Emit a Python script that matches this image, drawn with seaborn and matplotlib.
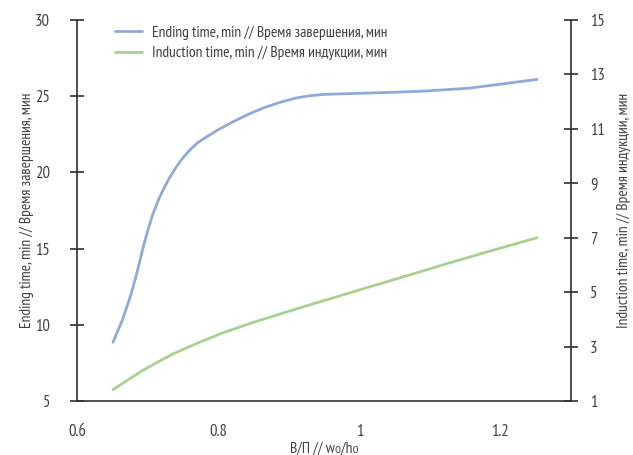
import matplotlib
matplotlib.use("Agg")
import matplotlib.pyplot as plt
from matplotlib import font_manager as fm
import seaborn as sns
import pandas as pd

# ---- data ----
x_end = [0.651, 0.665, 0.677, 0.686, 0.694, 0.701, 0.708, 0.715, 0.722, 0.731, 0.741,
         0.750, 0.760, 0.771, 0.784, 0.800, 0.817, 0.831, 0.846, 0.865, 0.888, 0.910,
         0.930, 0.950, 1.000, 1.045, 1.093, 1.154, 1.202, 1.252]
ending_time = [8.85, 10.4, 12.07, 13.6, 15.13, 16.3, 17.32, 18.15, 18.85, 19.65, 20.38,
               20.95, 21.47, 21.95, 22.34, 22.8, 23.22, 23.55, 23.88, 24.25, 24.6, 24.88,
               25.03, 25.12, 25.19, 25.25, 25.34, 25.52, 25.8, 26.1]

x_ind = [0.651, 0.694, 0.736, 0.770, 0.808, 0.850, 0.903, 0.950, 1.000, 1.031, 1.080,
         1.126, 1.180, 1.252]
induction_time = [1.42, 2.14, 2.73, 3.12, 3.52, 3.89, 4.32, 4.69, 5.08, 5.32, 5.70,
                  6.06, 6.47, 7.0]

x_ticks = [0.6, 0.8, 1.0, 1.2]
x_tick_labels = ["0.6", "0.8", "1", "1.2"]
left_ticks = [5, 10, 15, 20, 25, 30]
right_ticks = [1, 3, 5, 7, 9, 11, 13, 15]

label_end = "Ending time, min // Время завершения, мин"
label_ind = "Induction time, min // Время индукции, мин"
x_label = "В/П // w\u2080/h\u2080"

# ---- style ----
sns.set_style("white")
light_ok = any(f.name == "Open Sans Condensed" and f.weight in (300, "light")
               for f in fm.fontManager.ttflist)
if light_ok:
    FAM = ["Open Sans Condensed", "DejaVu Sans"]
    WEIGHT = "light"
else:
    FAM = ["PT Sans Narrow", "DejaVu Sans"]
    WEIGHT = "normal"
plt.rcParams["font.family"] = FAM
plt.rcParams["font.weight"] = WEIGHT
TXT = "#404040"
SP = "#303030"
BLUE = "#8EA9DB"
GREEN = "#A9D18E"
LBL = 11.2

df_end = pd.DataFrame({"x": x_end, "y": ending_time})
df_ind = pd.DataFrame({"x": x_ind, "y": induction_time})

fig = plt.figure(figsize=(6.33, 4.55), dpi=100)
ax = fig.add_axes([77 / 633, 1 - 401 / 455, 494 / 633, 381 / 455])
ax2 = ax.twinx()

sns.lineplot(data=df_end, x="x", y="y", ax=ax, color=BLUE, lw=2.0, label=label_end,
             legend=False, sort=True)
sns.lineplot(data=df_ind, x="x", y="y", ax=ax2, color=GREEN, lw=2.0, label=label_ind,
             legend=False, sort=True)

ax.set_xlim(0.6, 1.3)
ax.set_ylim(5, 30)
ax2.set_ylim(1, 15)
ax.set_xticks(x_ticks)
ax.set_xticklabels(x_tick_labels)
ax.set_yticks(left_ticks)
ax2.set_yticks(right_ticks)

for a in (ax, ax2):
    for s in a.spines.values():
        s.set_color(SP)
        s.set_linewidth(1.2)
    a.spines["top"].set_visible(False)
    a.grid(False)
    a.set_facecolor("none")

ax.spines["right"].set_visible(False)
ax2.spines["left"].set_visible(False)
ax2.spines["bottom"].set_visible(False)

ax.tick_params(axis="x", direction="inout", length=10, width=1.2, color=SP,
               labelsize=12, labelcolor=TXT, pad=11.5)
ax.tick_params(axis="y", direction="inout", length=10, width=1.2, color=SP,
               labelsize=12, labelcolor=TXT, pad=14.4)
ax2.tick_params(axis="y", direction="inout", length=10, width=1.2, color=SP,
                labelsize=12, labelcolor=TXT, pad=8.6)

ax.set_xlabel(x_label, fontsize=LBL, color=TXT, va="center")
ax.set_ylabel(label_end, fontsize=LBL, color=TXT, va="center")
ax2.set_ylabel(label_ind, fontsize=LBL, color=TXT, va="center")
ax.xaxis.set_label_coords((324 - 77) / 494, (401 - 449) / 381)
ax.yaxis.set_label_coords((27 - 77) / 494, 0.5)
ax2.yaxis.set_label_coords((624 - 77) / 494, 0.5)

h1, l1 = ax.get_legend_handles_labels()
h2, l2 = ax2.get_legend_handles_labels()
leg = ax2.legend(h1 + h2, l1 + l2, loc="upper left", bbox_to_anchor=(0.077, 0.985),
                 frameon=False, fontsize=LBL, handlelength=1.73, handletextpad=0.64,
                 labelspacing=0.4, borderpad=0, borderaxespad=0)
for t in leg.get_texts():
    t.set_color(TXT)

fig.savefig("out.png", dpi=100)
